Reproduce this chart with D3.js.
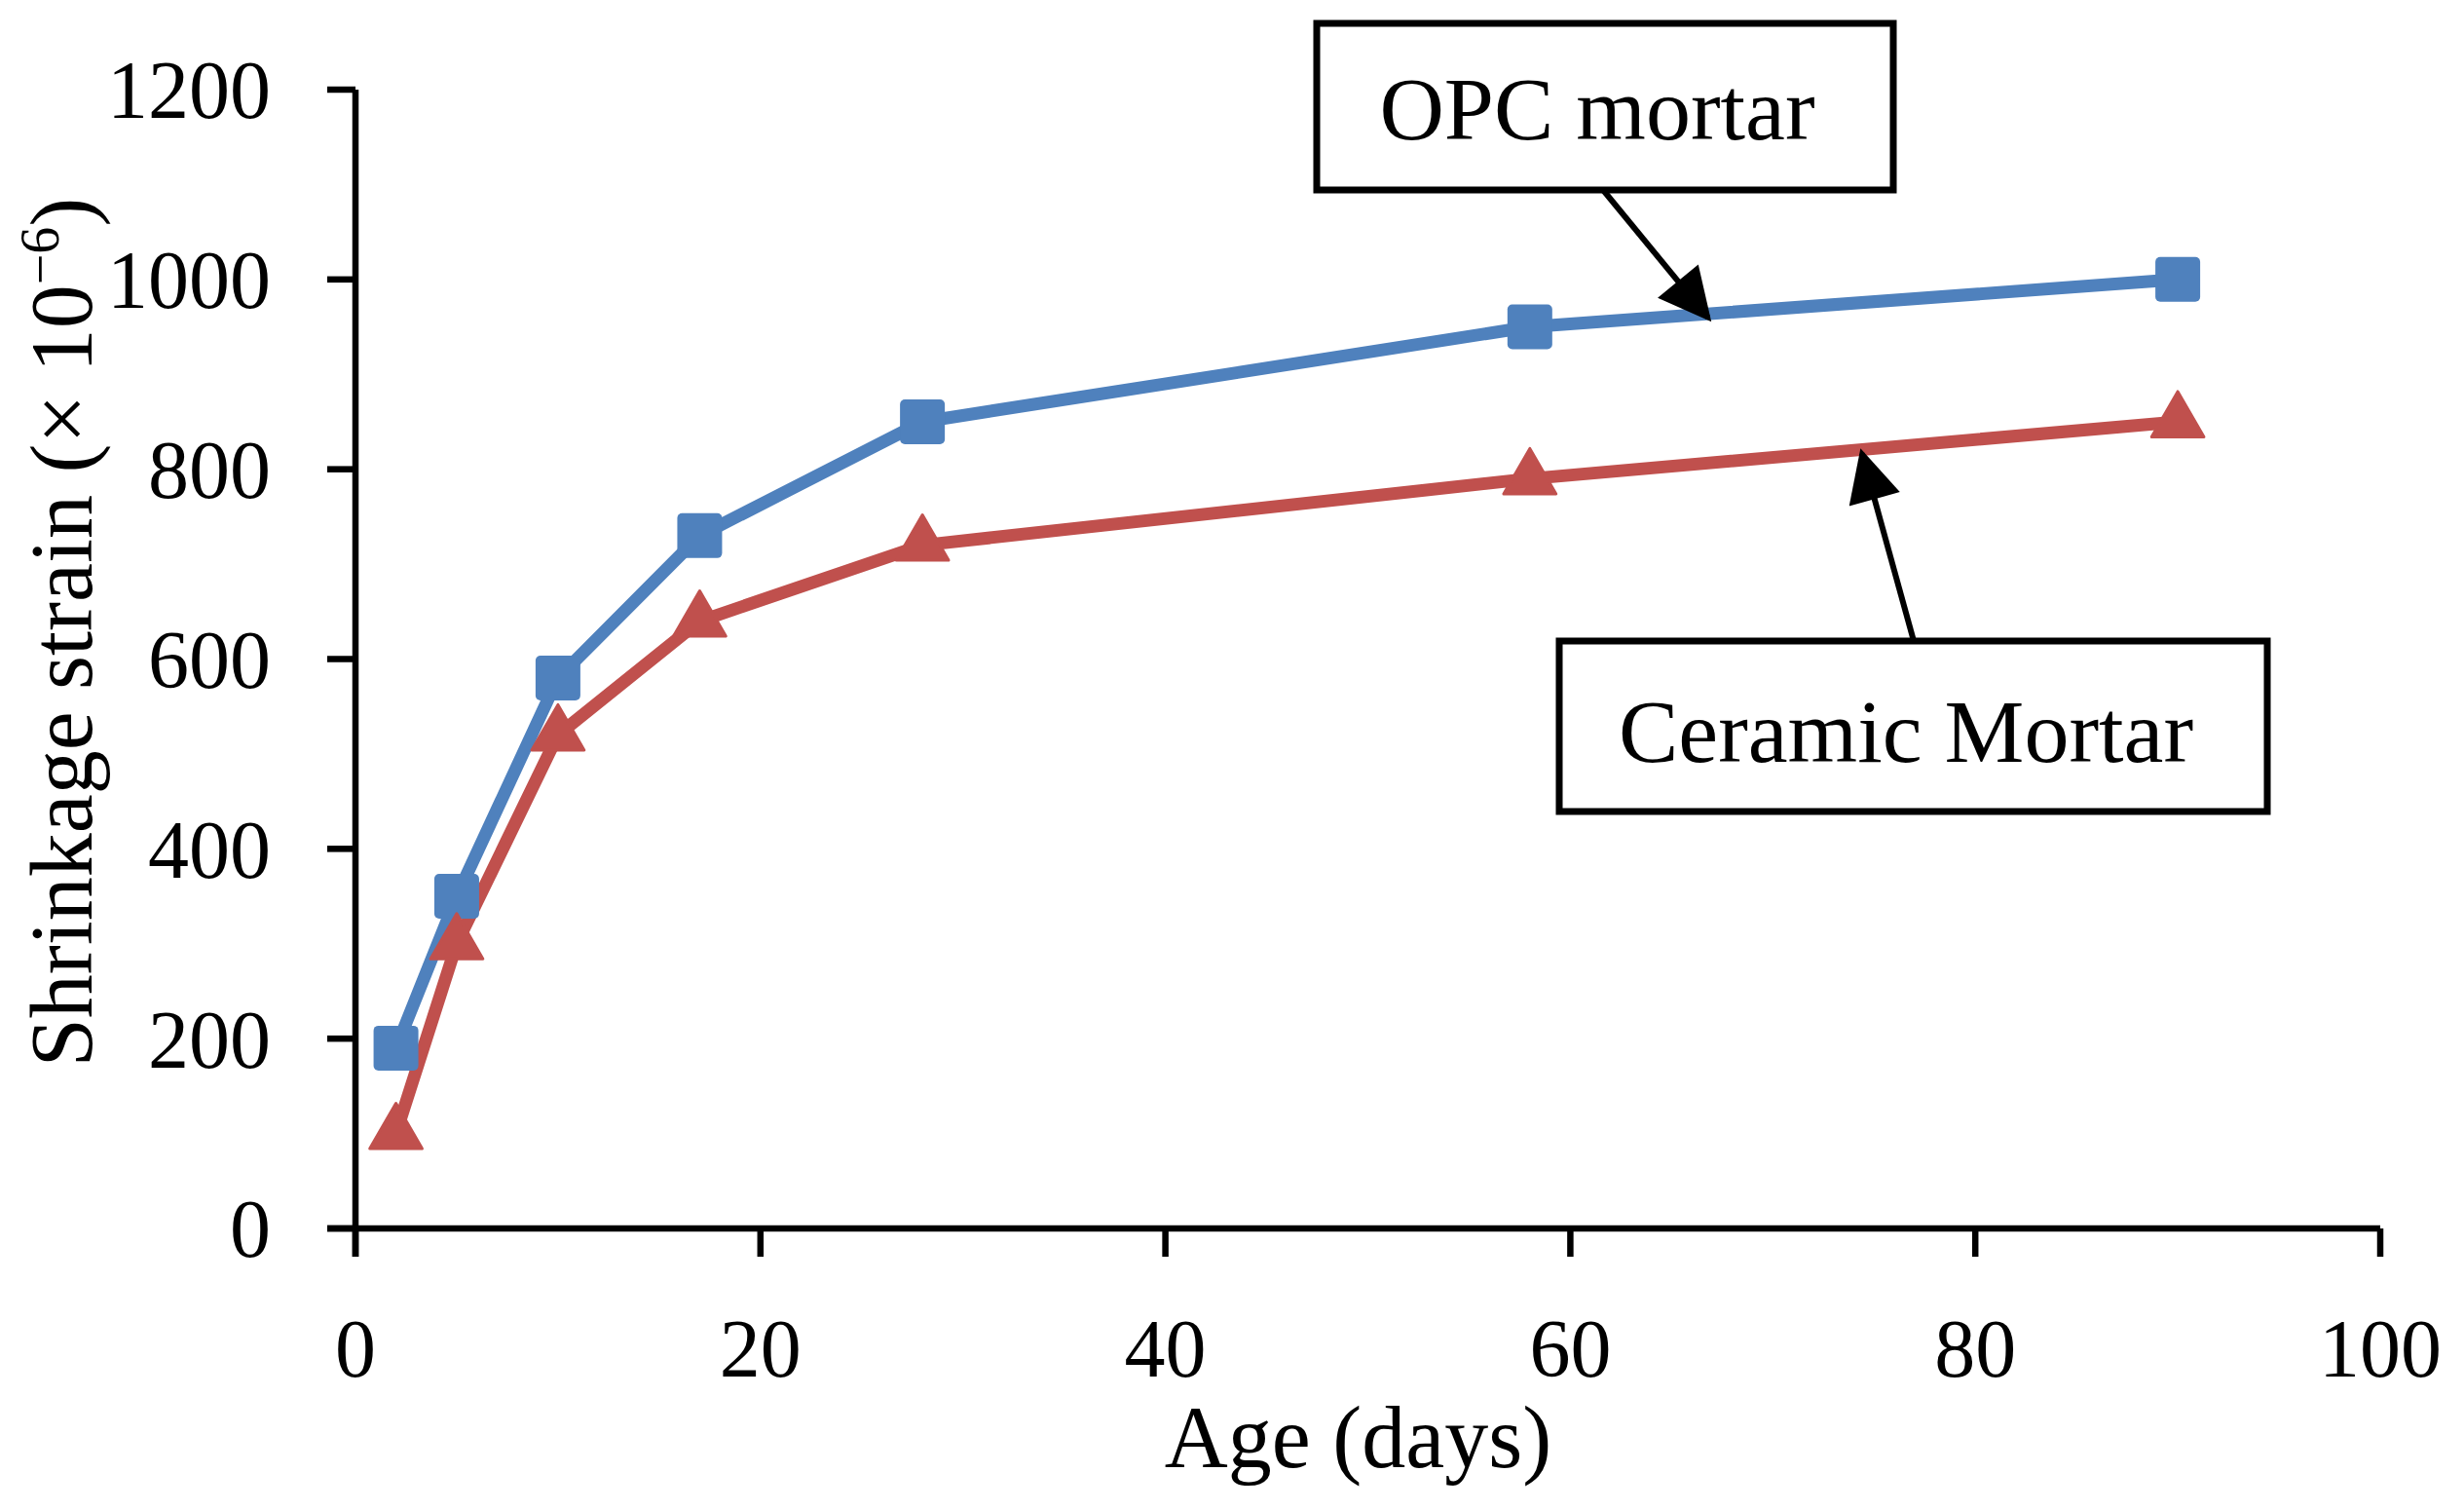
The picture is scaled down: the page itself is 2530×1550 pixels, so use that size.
<!DOCTYPE html>
<html>
<head>
<meta charset="utf-8">
<script src="https://cdn.jsdelivr.net/npm/d3@7"></script>
<style>
  html, body { margin: 0; padding: 0; background: #fff; }
  svg { display: block; }
</style>
</head>
<body>
<svg id="chart" width="2530" height="1550"></svg>
<script>
// ---- Data ----
const ages = [2, 5, 10, 17, 28, 58, 90];
const opcMortar = [190, 350, 580, 730, 850, 950, 1000];
const ceramicMortar = [100, 300, 520, 640, 720, 790, 850];
const xTicks = [0, 20, 40, 60, 80, 100];
const yTicks = [0, 200, 400, 600, 800, 1000, 1200];
const seriesNames = ["OPC mortar", "Ceramic Mortar"];
const xTitle = "Age (days)";
const yTitle = "Shrinkage strain (× 10";
const yTitleSup = "−6";

// ---- Layout ----
const FONT = "'Palatino Linotype', 'Book Antiqua', Palatino, 'Liberation Serif', serif";
const blue = "#4F81BD", red = "#C0504D";
const x = d3.scaleLinear().domain([0, 100]).range([365, 2444]);
const y = d3.scaleLinear().domain([0, 1200]).range([1261, 92]);
const tickLen = 29;
const axisW = 6.5;

const svg = d3.select("#chart");

// Axes
const axes = svg.append("g").attr("stroke", "#000").attr("stroke-width", axisW).attr("fill", "none");
axes.append("line").attr("x1", x(0)).attr("x2", x(0)).attr("y1", y(1200)).attr("y2", y(0) + tickLen);
axes.append("line").attr("x1", x(0) - tickLen).attr("x2", x(100)).attr("y1", y(0)).attr("y2", y(0));
axes.selectAll(".yt").data(yTicks).join("line")
  .attr("x1", x(0) - tickLen).attr("x2", x(0)).attr("y1", d => y(d)).attr("y2", d => y(d));
axes.selectAll(".xt").data(xTicks).join("line")
  .attr("x1", d => x(d)).attr("x2", d => x(d)).attr("y1", y(0)).attr("y2", y(0) + tickLen);

// Tick labels
svg.append("g").selectAll("text").data(yTicks).join("text")
  .attr("x", 278).attr("y", d => y(d)).attr("dy", "0.35em")
  .attr("text-anchor", "end").attr("font-family", FONT).attr("font-size", 84)
  .text(d => d);
svg.append("g").selectAll("text").data(xTicks).join("text")
  .attr("x", d => x(d)).attr("y", 1413)
  .attr("text-anchor", "middle").attr("font-family", FONT).attr("font-size", 84)
  .text(d => d);

// Axis titles
svg.append("text").attr("x", x(50) - 10).attr("y", 1506)
  .attr("text-anchor", "middle").attr("font-family", FONT).attr("font-size", 90)
  .text(xTitle);
const yt = svg.append("text")
  .attr("transform", "translate(94,649) rotate(-90)")
  .attr("text-anchor", "middle").attr("font-family", FONT).attr("font-size", 90);
yt.append("tspan").text(yTitle);
yt.append("tspan").attr("font-size", 56).attr("dy", -34).text(yTitleSup);
yt.append("tspan").attr("dy", 34).text(")");

// Series
const line = d3.line().x(d => x(d[0])).y(d => y(d[1]));
const opcData = ages.map((a, i) => [a, opcMortar[i]]);
const cerData = ages.map((a, i) => [a, ceramicMortar[i]]);

svg.append("path").datum(opcData).attr("d", line)
  .attr("fill", "none").attr("stroke", blue).attr("stroke-width", 13).attr("stroke-linejoin", "round");
svg.append("path").datum(cerData).attr("d", line)
  .attr("fill", "none").attr("stroke", red).attr("stroke-width", 13).attr("stroke-linejoin", "round");

const sq = 46;
svg.append("g").selectAll("rect").data(opcData).join("rect")
  .attr("x", d => x(d[0]) - sq / 2).attr("y", d => y(d[1]) - sq / 2)
  .attr("width", sq).attr("height", sq).attr("rx", 5).attr("fill", blue);

const tri = d3.symbol().type(d3.symbolTriangle).size(1250);
svg.append("g").selectAll("path").data(cerData).join("path")
  .attr("transform", d => `translate(${x(d[0])},${y(d[1])})`)
  .attr("d", tri).attr("fill", red).attr("stroke", red).attr("stroke-width", 3).attr("stroke-linejoin", "round");

// Annotations
const defs = svg.append("defs");
defs.append("marker").attr("id", "arrow").attr("viewBox", "0 0 10 10")
  .attr("refX", 9).attr("refY", 5).attr("markerWidth", 10).attr("markerHeight", 9)
  .attr("markerUnits", "strokeWidth").attr("orient", "auto")
  .append("path").attr("d", "M0,0 L10,5 L0,10 Z").attr("fill", "#000");

function callout(bx, by, bw, bh, label, tx, ty, x1, y1, x2, y2) {
  svg.append("line").attr("x1", x1).attr("y1", y1).attr("x2", x2).attr("y2", y2)
    .attr("stroke", "#000").attr("stroke-width", 6).attr("marker-end", "url(#arrow)");
  svg.append("rect").attr("x", bx).attr("y", by).attr("width", bw).attr("height", bh)
    .attr("fill", "#fff").attr("stroke", "#000").attr("stroke-width", 7);
  svg.append("text").attr("x", tx).attr("y", ty).attr("text-anchor", "middle")
    .attr("font-family", FONT).attr("font-size", 92).text(label);
}
const opcTipDay = 66.8, cerTipDay = 74.4;
const opcTipVal = d3.scaleLinear().domain([58, 90]).range([950, 1000])(opcTipDay);
const cerTipVal = d3.scaleLinear().domain([58, 90]).range([790, 850])(cerTipDay);
callout(1352, 24, 592, 171, seriesNames[0], 1640, 143, 1646, 195, x(opcTipDay), y(opcTipVal) + 4);
callout(1601, 658, 727, 175, seriesNames[1], 1957, 782, 1965, 658, x(cerTipDay), y(cerTipVal) + 4);
</script>
</body>
</html>
